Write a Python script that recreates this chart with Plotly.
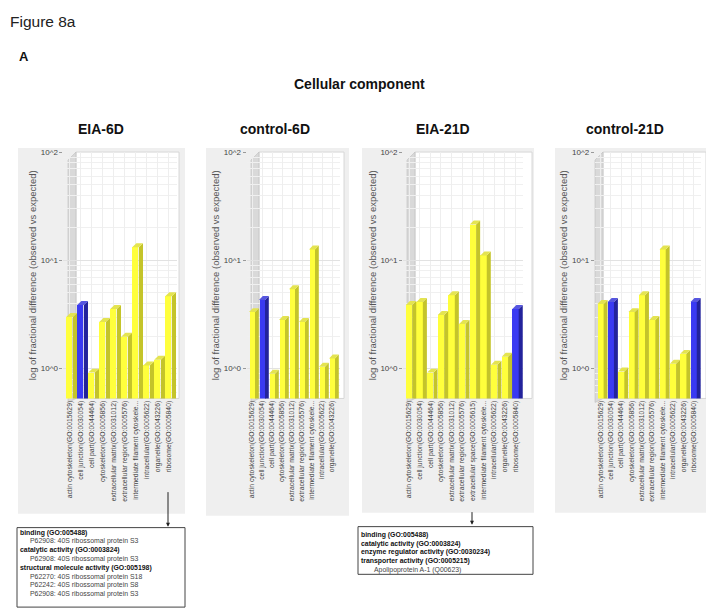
import plotly.graph_objects as go

W, H = 714, 614
PAGE_MARGIN = 8  # the html body margin shifts the figure by this much

# GO cellular-component terms shown under the bars
ACTIN = "actin cytoskeleton(GO:0015629)"
JUNCTION = "cell junction(GO:0030054)"
CELLPART = "cell part(GO:0044464)"
CYTOSK = "cytoskeleton(GO:0005856)"
MATRIX = "extracellular matrix(GO:0031012)"
REGION = "extracellular region(GO:0005576)"
SPACE = "extracellular space(GO:0005615)"
FILAMENT = "intermediate filament cytoskele..."
INTRA = "intracellular(GO:0005622)"
ORGANELLE = "organelle(GO:0043226)"
RIBOSOME = "ribosome(GO:0005840)"

# fractional difference (observed vs expected)
eia6d_terms = [ACTIN, JUNCTION, CELLPART, CYTOSK, MATRIX, REGION, FILAMENT, INTRA, ORGANELLE, RIBOSOME]
eia6d_values = [3.0, 3.87, 0.92, 2.70, 3.55, 1.97, 13.2, 1.07, 1.21, 4.67]
eia6d_blue = [JUNCTION]

ctrl6d_terms = [ACTIN, JUNCTION, CELLPART, CYTOSK, MATRIX, REGION, FILAMENT, INTRA, ORGANELLE]
ctrl6d_values = [3.33, 4.30, 0.90, 2.82, 5.42, 2.70, 12.6, 1.04, 1.24]
ctrl6d_blue = [JUNCTION]

eia21d_terms = [ACTIN, JUNCTION, CELLPART, CYTOSK, MATRIX, REGION, SPACE, FILAMENT, INTRA, ORGANELLE, RIBOSOME]
eia21d_values = [3.87, 4.12, 0.92, 3.13, 4.77, 2.59, 21.4, 11.1, 1.09, 1.29, 3.55]
eia21d_blue = [RIBOSOME]

ctrl21d_terms = [ACTIN, JUNCTION, CELLPART, CYTOSK, MATRIX, REGION, FILAMENT, INTRA, ORGANELLE, RIBOSOME]
ctrl21d_values = [3.95, 4.12, 0.94, 3.33, 4.77, 2.82, 12.6, 1.11, 1.37, 4.12]
ctrl21d_blue = [JUNCTION, RIBOSOME]

y_tickvals = [1, 10, 100]
y_ticktext = ["10^0", "10^1", "10^2"]
y_minor = [0.6, 0.7, 0.8, 0.9, 2, 3, 4, 5, 6, 7, 8, 9, 20, 30, 40, 50, 60, 70, 80, 90]

box_eia6d = [
    ("binding (GO:005488)", True),
    ("P62908: 40S ribossomal protein S3", False),
    ("catalytic activity (GO:0003824)", True),
    ("P62908: 40S ribossomal protein S3", False),
    ("structural molecule activity (GO:005198)", True),
    ("P62270: 40S ribossomal protein S18", False),
    ("P62242: 40S ribossomal protein S8", False),
    ("P62908: 40S ribossomal protein S3", False),
]
box_eia21d = [
    ("binding (GO:005488)", True),
    ("catalytic activity (GO:0003824)", True),
    ("enzyme regulator activity (GO:0030234)", True),
    ("transporter activity (GO:0005215)", True),
    ("Apolipoprotein A-1 (Q00623)", False),
]

FONT = "Liberation Sans, Arial, sans-serif"
YELLOW = ("#ffff3c", "#c4c42a", "#e4e450")  # front, side, top
BLUE = ("#3a3af2", "#23239c", "#5656e0")

# panel geometry in pixels: grey card, white plot box, first bar centre, bar pitch
panels = [
    dict(title="EIA-6D", tx=101, terms=eia6d_terms, values=eia6d_values, blue=eia6d_blue,
         card=(18, 145, 185, 513), box=(76, 179), x0=69.5, dx=11.0),
    dict(title="control-6D", tx=275, terms=ctrl6d_terms, values=ctrl6d_values, blue=ctrl6d_blue,
         card=(206, 145, 349, 515), box=(259, 344), x0=252, dx=10.0),
    dict(title="EIA-21D", tx=443, terms=eia21d_terms, values=eia21d_values, blue=eia21d_blue,
         card=(362, 145, 534, 512), box=(415, 532), x0=409, dx=10.65),
    dict(title="control-21D", tx=625, terms=ctrl21d_terms, values=ctrl21d_values, blue=ctrl21d_blue,
         card=(555, 145, 722, 512), box=(603, 706), x0=600.5, dx=10.35),
]

PLOT_TOP, PLOT_BOTTOM = 149, 397
LOG_RANGE = [-0.275, 2.0]
PX_PER_DECADE = (PLOT_BOTTOM - PLOT_TOP) / (LOG_RANGE[1] - LOG_RANGE[0])
DEPTH = 10 ** (4 / PX_PER_DECADE)  # top face rises ~4px
FRONT, SIDE = 0.3, 0.68
XLO, XHI_PAD = -0.55, 0.75


def px(x):
    return (x - PAGE_MARGIN) / W


def py(y):
    return 1 - (y - PAGE_MARGIN) / H


def note(text, x, y, size, color="#111", xanchor="center", yanchor="middle"):
    return dict(text=text, x=px(x), y=py(y), xref="paper", yref="paper",
                xanchor=xanchor, yanchor=yanchor, showarrow=False, borderpad=0,
                font=dict(size=size, color=color))


fig = go.Figure()
shapes = []
annotations = []
layout_axes = {}

for k, p in enumerate(panels, start=1):
    xa = "x" if k == 1 else f"x{k}"
    ya = "y" if k == 1 else f"y{k}"
    n = len(p["terms"])
    colors = [BLUE if t in p["blue"] else YELLOW for t in p["terms"]]

    fig.add_trace(go.Bar(
        x=list(range(n)), y=p["values"], width=2 * FRONT,
        marker=dict(color=[c[0] for c in colors], line_width=0),
        xaxis=xa, yaxis=ya, showlegend=False,
        hovertemplate="%{text}<br>%{y:.2f}<extra></extra>", text=p["terms"],
        textposition="none",
    ))

    # side and top faces of the pseudo-3D bars
    for pal in (YELLOW, BLUE):
        sx, sy, tx, ty = [], [], [], []
        for i, (v, c) in enumerate(zip(p["values"], colors)):
            if c is not pal:
                continue
            sx += [i + FRONT, i + FRONT, i + SIDE, i + SIDE, None]
            sy += [0.3, v, v * DEPTH, 0.3, None]
            tx += [i - FRONT, i + FRONT, i + SIDE, i + SIDE - 2 * FRONT, None]
            ty += [v, v, v * DEPTH, v * DEPTH, None]
        if not sx:
            continue
        fig.add_trace(go.Scatter(x=sx, y=sy, mode="lines", fill="toself", fillcolor=pal[1],
                                 line_width=0, hoverinfo="skip", showlegend=False,
                                 xaxis=xa, yaxis=ya))
        fig.add_trace(go.Scatter(x=tx, y=ty, mode="lines", fill="toself", fillcolor=pal[2],
                                 line_width=0, hoverinfo="skip", showlegend=False,
                                 xaxis=xa, yaxis=ya))

    left = p["x0"] + XLO * p["dx"]
    right = p["x0"] + (n - 1 + XHI_PAD) * p["dx"]
    layout_axes["xaxis" if k == 1 else f"xaxis{k}"] = dict(
        domain=[px(left), px(right)], range=[XLO, n - 1 + XHI_PAD], anchor=ya,
        tickmode="array", tickvals=list(range(n)), ticktext=p["terms"], tickangle=-90,
        tickfont=dict(size=6.8, color="#444"), ticks="", showgrid=True, gridcolor="#eeeeee",
        gridwidth=0.5, zeroline=False, showline=False, fixedrange=True,
    )
    layout_axes["yaxis" if k == 1 else f"yaxis{k}"] = dict(
        domain=[py(PLOT_BOTTOM), py(PLOT_TOP)], type="log", range=LOG_RANGE, anchor=xa,
        tickmode="array", tickvals=y_tickvals, ticktext=y_ticktext,
        tickfont=dict(size=8, color="#444"), ticks="outside", ticklen=3, tickcolor="#999",
        showgrid=True, gridcolor="#e2e2e2", gridwidth=0.6,
        minor=dict(tickmode="array", tickvals=y_minor, showgrid=True,
                   gridcolor="#f0f0f0", gridwidth=0.5),
        showline=False, zeroline=False, fixedrange=True,
        title=dict(text="log of fractional difference (observed vs expected)",
                   font=dict(size=9.5, color="#555"), standoff=2),
    )

    cx0, cy0, cx1, cy1 = p["card"]
    bx0, bx1 = p["box"]
    shapes.append(dict(type="rect", xref="paper", yref="paper", layer="below",
                       x0=px(cx0), x1=px(cx1), y0=py(cy1), y1=py(cy0),
                       fillcolor="#efefef", line_width=0))
    shapes.append(dict(type="rect", xref="paper", yref="paper", layer="below",
                       x0=px(bx0), x1=px(bx1), y0=py(PLOT_BOTTOM), y1=py(PLOT_TOP),
                       fillcolor="white", line=dict(color="#cfcfcf", width=0.8)))
    wl = bx0 - 8
    shapes.append(dict(type="path", xref="paper", yref="paper", layer="below",
                       path=(f"M {px(wl)},{py(PLOT_TOP + 8)} L {px(bx0)},{py(PLOT_TOP)} "
                             f"L {px(bx0)},{py(PLOT_BOTTOM)} L {px(wl)},{py(PLOT_BOTTOM + 4)} Z"),
                       fillcolor="#d9d9d9", line=dict(color="#bdbdbd", width=0.6)))

    annotations.append(note(f"<b>{p['title']}</b>", p["tx"], 126, 14))

annotations += [
    note("Figure 8a", 8.5, 8.5, 15.5, "#222", "left", "top"),
    note("<b>A</b>", 18, 53, 13, "#111", "left"),
    note("<b>Cellular component</b>", 359, 80, 14),
]
# arrows from the ribosome / extracellular-space labels to the boxes
for ax_px, tip, length in [(168, 526, 36), (472, 524, 14)]:
    annotations.append(dict(text="", x=px(ax_px), y=py(tip), xref="paper", yref="paper",
                            ax=0, ay=-length, showarrow=True, arrowhead=2, arrowsize=0.8,
                            arrowwidth=1, arrowcolor="#222"))

shapes.append(dict(type="rect", xref="paper", yref="paper", x0=px(17), x1=px(185),
                   y0=py(607), y1=py(527), line=dict(color="#444", width=1)))
shapes.append(dict(type="rect", xref="paper", yref="paper", x0=px(358), x1=px(533),
                   y0=py(574), y1=py(526), line=dict(color="#444", width=1)))


def box_text(lines, x_head, x_item, y_first, step):
    out = []
    for j, (txt, bold) in enumerate(lines):
        out.append(note(f"<b>{txt}</b>" if bold else txt,
                        x_head if bold else x_item, y_first + j * step, 6.9,
                        "#111" if bold else "#444", "left"))
    return out


annotations += box_text(box_eia6d, 19, 29, 532, 8.85)
annotations += box_text(box_eia21d, 360, 373, 534, 9.0)

fig.update_layout(
    width=W, height=H, margin=dict(l=0, r=0, t=0, b=0),
    paper_bgcolor="white", plot_bgcolor="rgba(0,0,0,0)",
    font=dict(family=FONT, color="#222"),
    bargap=0, shapes=shapes, annotations=annotations, showlegend=False,
    **layout_axes,
)

fig.write_html("out.html")
